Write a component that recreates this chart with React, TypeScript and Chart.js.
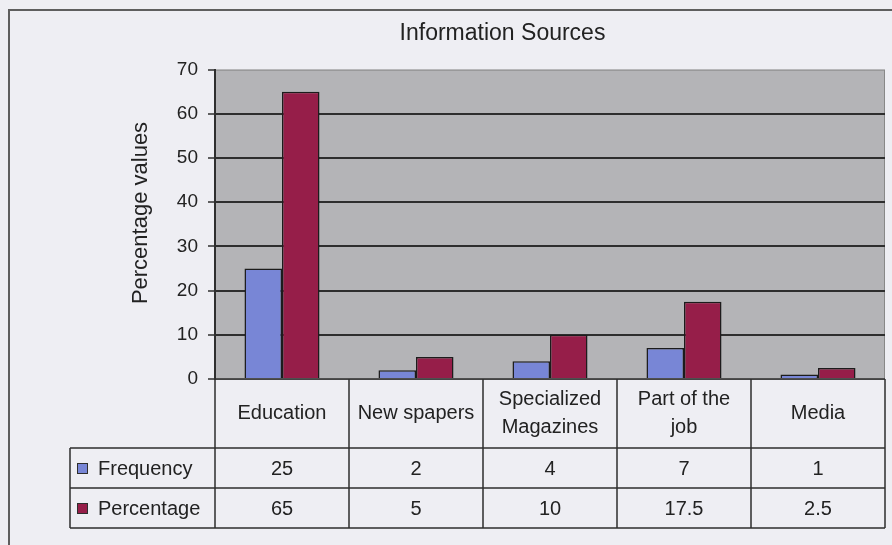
import { useEffect, useRef } from "react";
import { Chart, registerables } from "chart.js";

Chart.register(...registerables);

// Category names (multi-line header cells of the data table)
const categories: string[][] = [
  ["Education"],
  ["New spapers"],
  ["Specialized", "Magazines"],
  ["Part of the", "job"],
  ["Media"],
];
const seriesNames = ["Frequency", "Percentage"];
const frequency = [25, 2, 4, 7, 1];
const percentage = [65, 5, 10, 17.5, 2.5];
const yMax = 70;
const yStep = 10;
const yTitle = "Percentage values";

const FONT = "'Liberation Sans', Arial, Helvetica, sans-serif";
const TEXT = "#222222";
const PAGE_BG = "#eeeef3";
const PLOT_BG = "#b4b4b7";
const LINE = "#2e2e2e";
const BLUE = "#7886d6";
const RED = "#961e49";
const seriesColors = [BLUE, RED];

// Data table geometry below the plot
const HEADER_H = 69;
const ROW_H = 40;
const LEGEND_COL_W = 145;
const TABLE_FONT = 20;

const frameAndTable = {
  id: "frameAndTable",
  beforeDraw(chart: Chart) {
    const { ctx, width, height, chartArea: a } = chart;
    ctx.save();
    ctx.fillStyle = PAGE_BG;
    ctx.fillRect(0, 0, width, height);
    // outer chart frame
    ctx.strokeStyle = "#5e5e5e";
    ctx.lineWidth = 2;
    ctx.beginPath();
    ctx.moveTo(9, height);
    ctx.lineTo(9, 10);
    ctx.lineTo(width, 10);
    ctx.stroke();
    // plot area
    ctx.fillStyle = PLOT_BG;
    ctx.fillRect(a.left, a.top, a.right - a.left, a.bottom - a.top);
    ctx.strokeStyle = "#888888";
    ctx.lineWidth = 1;
    ctx.strokeRect(a.left + 0.5, a.top + 0.5, a.right - a.left - 1, a.bottom - a.top);
    // vertical value-axis title
    ctx.save();
    ctx.translate(141, 213);
    ctx.rotate(-Math.PI / 2);
    ctx.fillStyle = TEXT;
    ctx.font = `22px ${FONT}`;
    ctx.textAlign = "center";
    ctx.textBaseline = "middle";
    ctx.fillText(yTitle, 0, 0);
    ctx.restore();
    ctx.restore();
  },
  afterDraw(chart: Chart) {
    const { ctx, chartArea: a } = chart;
    const xs = chart.scales.x;
    const n = categories.length;
    const colW = (a.right - a.left) / n;
    const top = a.bottom;
    const r1 = top + HEADER_H;
    const r2 = r1 + ROW_H;
    const r3 = r2 + ROW_H;
    const legendLeft = a.left - LEGEND_COL_W;

    ctx.save();
    ctx.strokeStyle = LINE;
    ctx.lineWidth = 1.5;
    ctx.beginPath();
    ctx.moveTo(a.left, top);
    ctx.lineTo(a.right, top);
    for (const y of [r1, r2, r3]) {
      ctx.moveTo(legendLeft, y);
      ctx.lineTo(a.right, y);
    }
    for (let i = 0; i <= n; i++) {
      const x = a.left + i * colW;
      ctx.moveTo(x, top);
      ctx.lineTo(x, r3);
    }
    ctx.moveTo(legendLeft, r1);
    ctx.lineTo(legendLeft, r3);
    ctx.stroke();

    ctx.fillStyle = TEXT;
    ctx.font = `${TABLE_FONT}px ${FONT}`;
    ctx.textAlign = "center";
    ctx.textBaseline = "middle";
    const lineH = 28;
    categories.forEach((lines, i) => {
      const cx = xs.getPixelForValue(i);
      const cy = top + HEADER_H / 2 - ((lines.length - 1) * lineH) / 2;
      lines.forEach((t, k) => ctx.fillText(t, cx, cy + k * lineH));
    });

    const rows = [frequency, percentage];
    rows.forEach((vals, ri) => {
      const cy = r1 + ROW_H * ri + ROW_H / 2 + 1;
      vals.forEach((v, i) => {
        ctx.fillStyle = TEXT;
        ctx.fillText(String(v), xs.getPixelForValue(i), cy);
      });
      // legend key
      ctx.fillStyle = seriesColors[ri];
      ctx.fillRect(legendLeft + 7, cy - 6, 11, 11);
      ctx.strokeStyle = LINE;
      ctx.lineWidth = 1;
      ctx.strokeRect(legendLeft + 7.5, cy - 5.5, 10, 10);
      ctx.fillStyle = TEXT;
      ctx.textAlign = "left";
      ctx.fillText(seriesNames[ri], legendLeft + 28, cy);
      ctx.textAlign = "center";
    });
    ctx.restore();
  },
};

export default function App() {
  const canvasRef = useRef<HTMLCanvasElement | null>(null);

  useEffect(() => {
    if (!canvasRef.current) return;
    const chart = new Chart(canvasRef.current, {
      type: "bar",
      data: {
        labels: categories.map((c) => c.join(" ")),
        datasets: [
          {
            label: seriesNames[0],
            data: frequency,
            backgroundColor: BLUE,
            borderColor: "#1c1c1c",
            borderWidth: 1.5,
            categoryPercentage: 0.56,
            barPercentage: 1,
          },
          {
            label: seriesNames[1],
            data: percentage,
            backgroundColor: RED,
            borderColor: "#1c1c1c",
            borderWidth: 1.5,
            categoryPercentage: 0.56,
            barPercentage: 1,
          },
        ],
      },
      options: {
        responsive: false,
        animation: false,
        events: [],
        layout: { padding: { left: 120, right: 7, top: 10, bottom: 166 } },
        plugins: {
          legend: { display: false },
          tooltip: { enabled: false },
          title: {
            display: true,
            text: "Information Sources",
            color: TEXT,
            font: { family: FONT, size: 23, weight: "normal" },
            padding: { top: 10, bottom: 22 },
          },
        },
        scales: {
          x: { display: false, offset: true },
          y: {
            min: 0,
            max: yMax,
            afterFit: (s: any) => {
              s.width = 95;
            },
            ticks: {
              stepSize: yStep,
              padding: 10,
              color: TEXT,
              font: { family: FONT, size: 19 },
            },
            grid: {
              drawTicks: true,
              tickLength: 7,
              tickColor: LINE,
              tickWidth: 1.5,
              lineWidth: 2,
              color: (c: any) =>
                c.tick && (c.tick.value === yMax || c.tick.value === 0) ? "rgba(0,0,0,0)" : LINE,
            },
            border: { display: true, color: LINE, width: 2 },
            title: { display: false },
          },
        },
      },
      plugins: [frameAndTable],
    });
    return () => chart.destroy();
  }, []);

  return (
    <div style={{ position: "fixed", left: 0, top: 0, width: 892, height: 545 }}>
      <canvas ref={canvasRef} width={892} height={545} style={{ display: "block" }} />
    </div>
  );
}
